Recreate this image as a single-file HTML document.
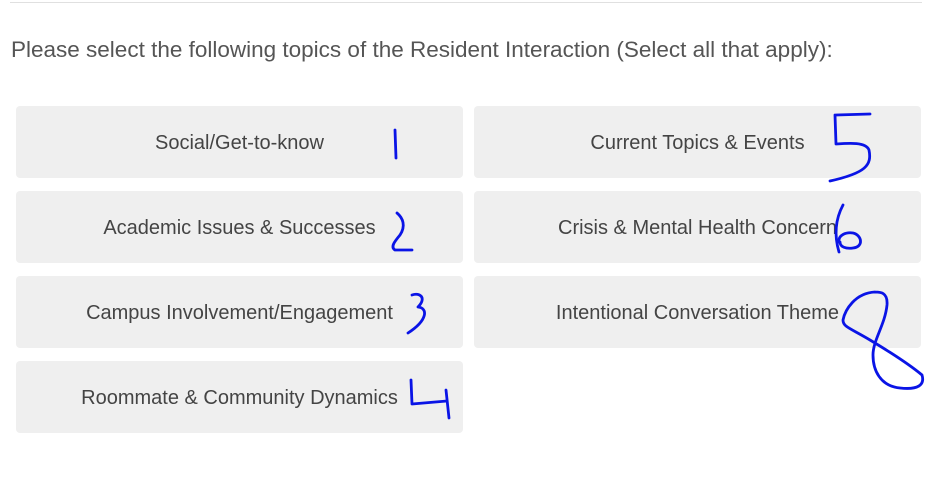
<!DOCTYPE html>
<html><head><meta charset="utf-8"><style>
body{margin:0;width:945px;height:490px;background:#fff;position:relative;overflow:hidden;font-family:"Liberation Sans",Arial,sans-serif;}
.rule{position:absolute;left:10px;top:2px;width:912px;height:1px;background:#e0e0e0;}
.q{position:absolute;left:11px;top:37px;font-size:22.5px;color:#555;}
.opt{position:absolute;width:447px;height:72px;padding-top:3px;box-sizing:border-box;background:#efefef;border-radius:4px;display:flex;align-items:center;justify-content:center;font-size:20px;color:#444;}
svg{position:absolute;left:0;top:0;}
</style></head><body>
<div class="rule"></div>
<div class="q">Please select the following topics of the Resident Interaction (Select all that apply):</div>
<div class="opt" style="left:16px;top:106px">Social/Get-to-know</div>
<div class="opt" style="left:16px;top:191px">Academic Issues &amp; Successes</div>
<div class="opt" style="left:16px;top:276px">Campus Involvement/Engagement</div>
<div class="opt" style="left:16px;top:361px">Roommate &amp; Community Dynamics</div>
<div class="opt" style="left:474px;top:106px">Current Topics &amp; Events</div>
<div class="opt" style="left:474px;top:191px">Crisis &amp; Mental Health Concern</div>
<div class="opt" style="left:474px;top:276px">Intentional Conversation Theme</div>
<svg width="945" height="490" fill="none" stroke="#0a14e6" stroke-width="2.8" stroke-linecap="round" stroke-linejoin="round">
<path d="M395 130 L396 158"/>
<path d="M397 213 C403 218 406 226 400 235 C395 241 390 247 395 250 L412 250"/>
<path d="M412 295 C420 292 427 298 418 307 C428 308 428 320 408 333"/>
<path d="M411 380 L412 404 L447 401 M446 390 L449 418"/>
<path d="M836 115 L870 114 M835 115 L836 144 C850 143 866 142 869 150 C872 165 866 173 830 181"/>
<path d="M843 205 C835 220 834 235 839 252 M839 242 C838 235 846 232 853 233 C862 235 864 247 853 248 C846 249 840 247 840 242"/>
<path d="M875 292 C855 293 845 310 843 320 C843 327 850 328 870 340 C890 352 910 365 922 375 C925 385 918 390 900 388 C880 386 873 370 873 355 C873 340 885 325 887 305 C888 292 880 292 875 292"/>
</svg>
</body></html>
